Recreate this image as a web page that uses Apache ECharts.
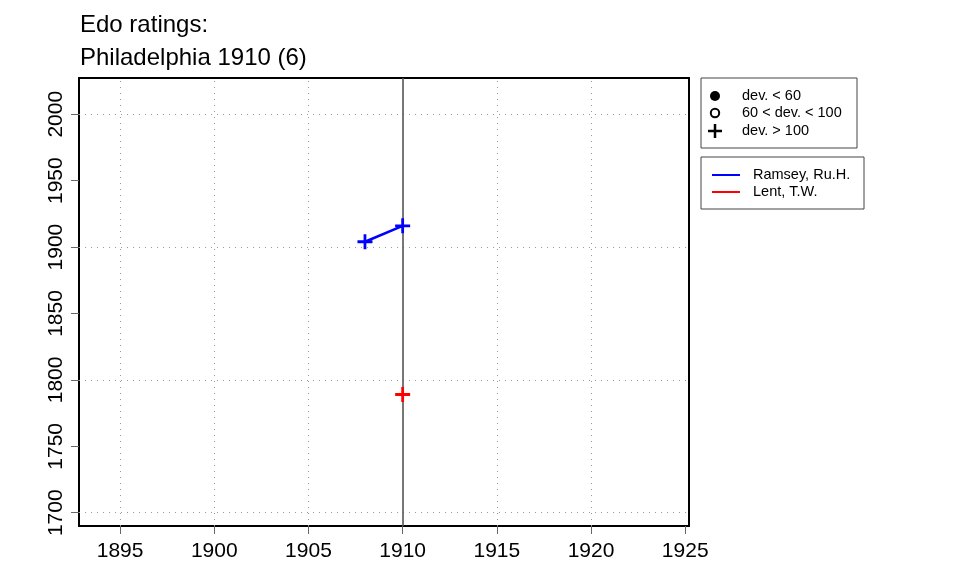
<!DOCTYPE html>
<html lang="en">
<head>
    <meta charset="UTF-8">
    <title>Edo ratings</title>
    <script src="https://cdn.jsdelivr.net/npm/echarts@6/dist/echarts.min.js"></script>
    <style>
        html, body { margin: 0; padding: 0; background: #fff; }
        #chart { width: 960px; height: 576px; }
    </style>
</head>
<body>
<div id="chart"></div>
<script type="text/javascript">
    // tick labels / grid positions
    var xTicks = [1895, 1900, 1905, 1910, 1915, 1920, 1925];
    var yTicks = [1700, 1750, 1800, 1850, 1900, 1950, 2000];
    var xGrid = [1895, 1900, 1905, 1915, 1920];
    var yGrid = [1700, 1800, 1900, 2000];
    var eventYear = 1910;

    // players
    var ramseyYears = [1908, 1910];
    var ramseyRatings = [1904, 1916];
    var lentYears = [1910];
    var lentRatings = [1789];

    var font = 'Liberation Sans, Arial, sans-serif';
    var legendFont = '14.5px ' + font;
    var plusPath = 'path://M-1.3,-7H1.3V-1.3H7V1.3H1.3V7H-1.3V1.3H-7V-1.3H-1.3Z';

    function pairs(xs, ys) {
        return xs.map(function (x, i) { return [x, ys[i]]; });
    }

    var chart = echarts.init(document.getElementById('chart'));
    chart.setOption({
        animation: false,
        textStyle: { fontFamily: font },
        title: {
            text: 'Edo ratings:\nPhiladelphia 1910 (6)',
            left: 75,
            top: 4,
            textStyle: { fontSize: 24, fontWeight: 'normal', color: '#000', lineHeight: 33, fontFamily: font }
        },
        grid: {
            left: 79, right: 271, top: 78, bottom: 50,
            show: true, borderColor: '#000', borderWidth: 2, backgroundColor: 'transparent'
        },
        xAxis: {
            type: 'value',
            min: 1892.82,
            max: 1925.2,
            axisLine: { show: false },
            splitLine: { show: false },
            axisTick: { customValues: xTicks, length: 8, lineStyle: { color: '#666' } },
            axisLabel: {
                customValues: xTicks, fontSize: 21, color: '#000', margin: 15, fontFamily: font,
                formatter: function (v) { return String(v); }
            }
        },
        yAxis: {
            type: 'value',
            min: 1690,
            max: 2027.3,
            axisLine: { show: false },
            splitLine: { show: false },
            axisTick: { customValues: yTicks, length: 8, lineStyle: { color: '#666' } },
            axisLabel: {
                customValues: yTicks, fontSize: 21, color: '#000', rotate: 90, margin: 12, fontFamily: font,
                formatter: function (v) { return String(v); }
            }
        },
        series: [
            {
                // grid lines and event marker
                type: 'line',
                data: [],
                silent: true,
                markLine: {
                    silent: true,
                    symbol: 'none',
                    label: { show: false },
                    data: xGrid.map(function (v) {
                        return { xAxis: v, lineStyle: { type: [1, 5], color: '#999', width: 1 } };
                    }).concat(yGrid.map(function (v) {
                        return { yAxis: v, lineStyle: { type: [1, 5], color: '#999', width: 1 } };
                    })).concat([
                        { xAxis: eventYear, lineStyle: { type: 'solid', color: '#555', width: 1.6 } }
                    ])
                }
            },
            {
                name: 'Ramsey, Ru.H.',
                type: 'line',
                data: pairs(ramseyYears, ramseyRatings),
                z: 5,
                lineStyle: { color: '#0000ff', width: 2.5 },
                symbol: plusPath,
                symbolSize: 15,
                itemStyle: { color: '#0000ff' }
            },
            {
                name: 'Lent, T.W.',
                type: 'line',
                data: pairs(lentYears, lentRatings),
                z: 5,
                lineStyle: { color: '#ff0000', width: 2.5 },
                symbol: plusPath,
                symbolSize: 15,
                itemStyle: { color: '#ff0000' }
            }
        ],
        graphic: [
            // deviation legend
            { type: 'rect', shape: { x: 701, y: 78, width: 156, height: 70 }, style: { fill: '#fff', stroke: '#444', lineWidth: 1 } },
            { type: 'circle', shape: { cx: 715, cy: 96, r: 5 }, style: { fill: '#000' } },
            { type: 'circle', shape: { cx: 715, cy: 113, r: 4.2 }, style: { fill: 'none', stroke: '#000', lineWidth: 2 } },
            { type: 'line', shape: { x1: 708, y1: 131, x2: 722, y2: 131 }, style: { stroke: '#000', lineWidth: 2.5 } },
            { type: 'line', shape: { x1: 715, y1: 124, x2: 715, y2: 138 }, style: { stroke: '#000', lineWidth: 2.5 } },
            { type: 'text', x: 742, y: 96, style: { text: 'dev. < 60', font: legendFont, fill: '#000', verticalAlign: 'middle' } },
            { type: 'text', x: 742, y: 113, style: { text: '60 < dev. < 100', font: legendFont, fill: '#000', verticalAlign: 'middle' } },
            { type: 'text', x: 742, y: 131, style: { text: 'dev. > 100', font: legendFont, fill: '#000', verticalAlign: 'middle' } },
            // player legend
            { type: 'rect', shape: { x: 701, y: 157, width: 163, height: 52 }, style: { fill: '#fff', stroke: '#444', lineWidth: 1 } },
            { type: 'line', shape: { x1: 712, y1: 175, x2: 740, y2: 175 }, style: { stroke: '#0000ff', lineWidth: 2 } },
            { type: 'line', shape: { x1: 712, y1: 192, x2: 740, y2: 192 }, style: { stroke: '#ff0000', lineWidth: 2 } },
            { type: 'text', x: 753, y: 175, style: { text: 'Ramsey, Ru.H.', font: legendFont, fill: '#000', verticalAlign: 'middle' } },
            { type: 'text', x: 753, y: 192, style: { text: 'Lent, T.W.', font: legendFont, fill: '#000', verticalAlign: 'middle' } }
        ]
    });
</script>
</body>
</html>
